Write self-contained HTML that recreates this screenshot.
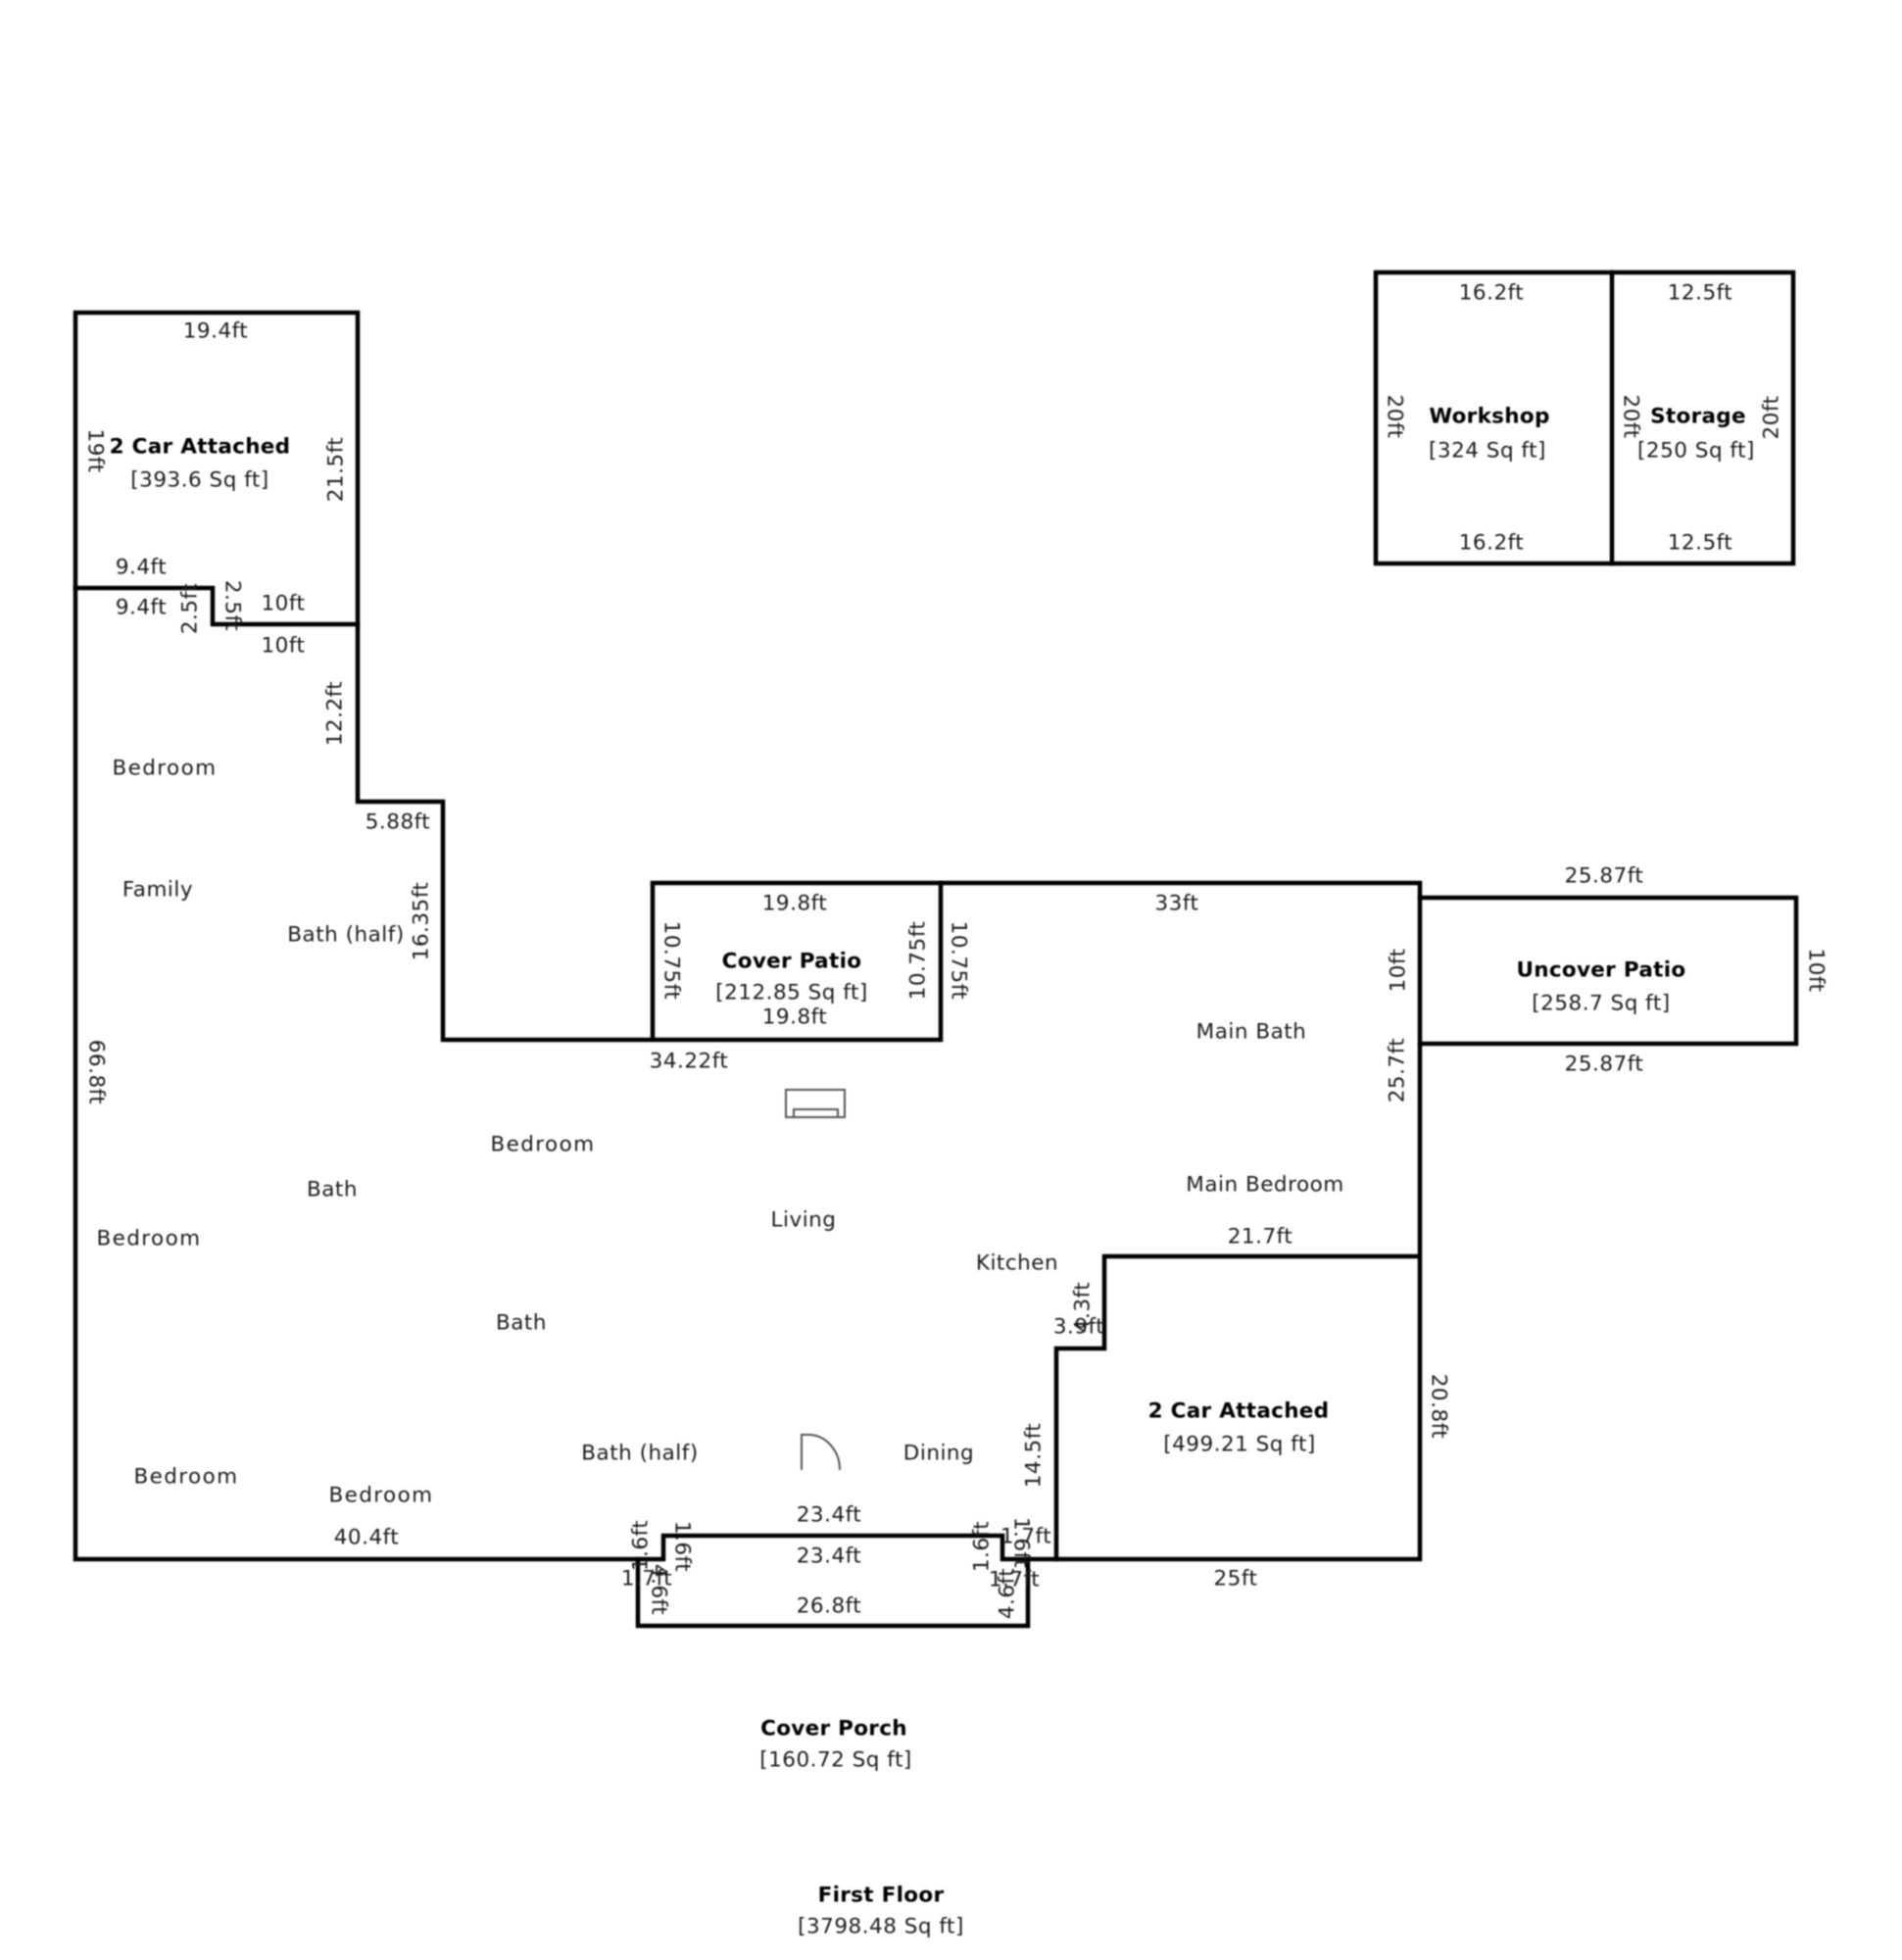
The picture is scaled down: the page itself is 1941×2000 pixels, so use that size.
<!DOCTYPE html>
<html>
<head>
<meta charset="utf-8">
<style>
html,body{margin:0;padding:0;background:#fff;}
svg{display:block;filter:blur(0.7px);}
text{font-family:"DejaVu Sans","Liberation Sans",sans-serif;font-size:21.5px;letter-spacing:.5px;fill:#1c1c1c;text-anchor:middle;dominant-baseline:central;}
text.b{font-weight:bold;fill:#000;letter-spacing:.3px;}
text.r{letter-spacing:1.4px;}
.w{fill:none;stroke:#000;stroke-width:4.5;stroke-linejoin:miter;stroke-linecap:square;}
.t{fill:none;stroke:#555;stroke-width:2;}
</style>
</head>
<body>
<svg width="1941" height="2000" viewBox="0 0 1941 2000" xmlns="http://www.w3.org/2000/svg">
<rect width="1941" height="2000" fill="#fff"/>

<!-- walls -->
<path class="w" d="M77 600V319H365V637"/>
<path class="w" d="M77 600H217V637H365V818H452V1061H666V901H960V1061H666"/>
<path class="w" d="M960 901H1449V1591H1078V1376H1127V1282H1449"/>
<path class="w" d="M77 600V1591H677V1567H1023V1591H1078"/>
<path class="w" d="M651 1591V1659H1049V1591"/>
<path class="w" d="M1404 278H1830V575H1404Z"/>
<path class="w" d="M1645 278V575"/>
<path class="w" d="M1449 916H1833V1065H1449"/>

<!-- fireplace -->
<rect class="t" x="802" y="1112" width="60" height="28"/>
<path class="t" d="M810 1140V1132H855V1140"/>
<!-- door -->
<path class="t" d="M818 1500V1464H826A32 36 0 0 1 857 1500"/>

<g transform="translate(0 1)">
<!-- horizontal dimensions -->
<text x="220" y="337">19.4ft</text>
<text x="144" y="578">9.4ft</text>
<text x="144" y="619">9.4ft</text>
<text x="289" y="615">10ft</text>
<text x="289" y="658">10ft</text>
<text x="406" y="838">5.88ft</text>
<text x="703" y="1082">34.22ft</text>
<text x="811" y="921">19.8ft</text>
<text x="811" y="1037">19.8ft</text>
<text x="1201" y="921">33ft</text>
<text x="1637" y="893">25.87ft</text>
<text x="1637" y="1085">25.87ft</text>
<text x="1286" y="1261">21.7ft</text>
<text x="1101" y="1353">3.9ft</text>
<text x="374" y="1568">40.4ft</text>
<text x="1261" y="1610">25ft</text>
<text x="846" y="1545">23.4ft</text>
<text x="846" y="1587">23.4ft</text>
<text x="846" y="1638">26.8ft</text>
<text x="660" y="1610">1.7ft</text>
<text x="1047" y="1567">1.7ft</text>
<text x="1035" y="1611">1.7ft</text>
<text x="1522" y="298">16.2ft</text>
<text x="1735" y="298">12.5ft</text>
<text x="1522" y="553">16.2ft</text>
<text x="1735" y="553">12.5ft</text>

<!-- vertical dimensions -->
<text transform="translate(97 459) rotate(90)">19ft</text>
<text transform="translate(343 478) rotate(-90)">21.5ft</text>
<text transform="translate(194 620) rotate(-90)">2.5ft</text>
<text transform="translate(237 617) rotate(90)">2.5ft</text>
<text transform="translate(342 727) rotate(-90)">12.2ft</text>
<text transform="translate(430 939) rotate(-90)">16.35ft</text>
<text transform="translate(98 1093) rotate(90)">66.8ft</text>
<text transform="translate(685 979) rotate(90)">10.75ft</text>
<text transform="translate(937 979) rotate(-90)">10.75ft</text>
<text transform="translate(978 979) rotate(90)">10.75ft</text>
<text transform="translate(1427 989) rotate(-90)">10ft</text>
<text transform="translate(1853 989) rotate(90)">10ft</text>
<text transform="translate(1426 1091) rotate(-90)">25.7ft</text>
<text transform="translate(1105 1333) rotate(-90)">4.3ft</text>
<text transform="translate(1055 1484) rotate(-90)">14.5ft</text>
<text transform="translate(1468 1434) rotate(90)">20.8ft</text>
<text transform="translate(654 1576) rotate(-90)">1.6ft</text>
<text transform="translate(696 1577) rotate(90)">1.6ft</text>
<text transform="translate(672 1621) rotate(90)">4.6ft</text>
<text transform="translate(1002 1577) rotate(-90)">1.6ft</text>
<text transform="translate(1042 1573) rotate(90)">1.6ft</text>
<text transform="translate(1028 1625) rotate(-90)">4.6ft</text>
<text transform="translate(1423 424) rotate(90)">20ft</text>
<text transform="translate(1664 424) rotate(90)">20ft</text>
<text transform="translate(1808 425) rotate(-90)">20ft</text>

<!-- room names -->
<text class="r" x="168" y="783">Bedroom</text>
<text x="161" y="907">Family</text>
<text x="353" y="953">Bath (half)</text>
<text x="1277" y="1052">Main Bath</text>
<text x="1291" y="1208">Main Bedroom</text>
<text x="1038" y="1288">Kitchen</text>
<text x="820" y="1244">Living</text>
<text class="r" x="554" y="1167">Bedroom</text>
<text x="339" y="1213">Bath</text>
<text class="r" x="152" y="1263">Bedroom</text>
<text x="532" y="1349">Bath</text>
<text class="r" x="190" y="1506">Bedroom</text>
<text class="r" x="389" y="1525">Bedroom</text>
<text x="653" y="1482">Bath (half)</text>
<text x="958" y="1482">Dining</text>

<!-- area labels -->
<text class="b" x="204" y="455">2 Car Attached</text>
<text x="204" y="489">[393.6 Sq ft]</text>
<text class="b" x="808" y="980">Cover Patio</text>
<text x="808" y="1012">[212.85 Sq ft]</text>
<text class="b" x="1634" y="989">Uncover Patio</text>
<text x="1634" y="1023">[258.7 Sq ft]</text>
<text class="b" x="1264" y="1439">2 Car Attached</text>
<text x="1265" y="1473">[499.21 Sq ft]</text>
<text class="b" x="1520" y="424">Workshop</text>
<text x="1518" y="459">[324 Sq ft]</text>
<text class="b" x="1733" y="424">Storage</text>
<text x="1731" y="459">[250 Sq ft]</text>
<text class="b" x="851" y="1763">Cover Porch</text>
<text x="853" y="1795">[160.72 Sq ft]</text>
<text class="b" x="899" y="1933">First Floor</text>
<text x="899" y="1965">[3798.48 Sq ft]</text>
</g>
</svg>
</body>
</html>
